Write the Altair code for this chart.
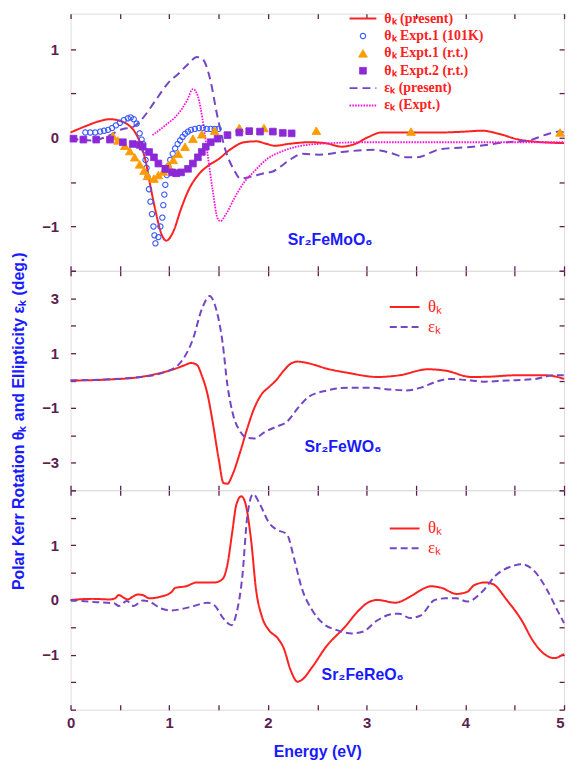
import altair as alt
import pandas as pd

# ---------------- data ----------------
# Panel 1: Sr2FeMoO6
mo_theta_E = [0, 0.15, 0.3, 0.4, 0.5, 0.58, 0.66, 0.72, 0.76, 0.81, 0.86, 0.93, 0.97, 1.04, 1.12, 1.2, 1.3, 1.4,
              1.5, 1.62, 1.76, 1.88, 1.99, 2.07, 2.2, 2.42, 2.58, 2.75, 2.88, 3.02, 3.15, 3.41, 3.74, 4.0, 4.17,
              4.34, 4.54, 4.67, 5.0]
mo_theta_v = [0.06, 0.13, 0.19, 0.21, 0.19, 0.15, 0.05, -0.1, -0.26, -0.55, -0.82, -1.11, -1.16, -1.06, -0.80,
              -0.58, -0.41, -0.31, -0.24, -0.13, -0.05, -0.04, -0.07, -0.09, -0.07, -0.05, -0.06, -0.10, -0.07,
              0.01, 0.06, 0.06, 0.06, 0.07, 0.08, 0.045, -0.02, -0.04, -0.06]
mo_eps_E = [0, 0.23, 0.36, 0.53, 0.63, 0.73, 0.86, 0.99, 1.09, 1.19, 1.28, 1.34, 1.41, 1.49, 1.57, 1.66, 1.72,
            1.82, 1.96, 2.05, 2.12, 2.22, 2.35, 2.52, 2.75, 3.08, 3.21, 3.41, 3.51, 3.74, 4.08, 4.41, 4.64, 4.80,
            4.95, 5.0]
mo_eps_v = [-0.01, -0.03, 0.01, 0.10, 0.12, 0.22, 0.42, 0.62, 0.72, 0.83, 0.91, 0.885, 0.68, 0.23, -0.14, -0.37,
            -0.46, -0.44, -0.40, -0.38, -0.33, -0.25, -0.18, -0.19, -0.16, -0.135, -0.16, -0.22, -0.22, -0.13,
            -0.10, -0.05, -0.03, 0.03, 0.07, 0.06]
mo_epsx_E = [0.83, 0.96, 1.09, 1.18, 1.24, 1.29, 1.34, 1.39, 1.44, 1.49, 1.52, 1.57, 1.66, 1.76, 1.86, 1.99, 2.15,
             2.29, 2.5, 3.0, 3.5, 4.0, 4.5, 5.0]
mo_epsx_v = [0.03, 0.14, 0.27, 0.42, 0.55, 0.47, 0.19, -0.2, -0.59, -0.91, -0.94, -0.87, -0.68, -0.50, -0.38,
             -0.24, -0.15, -0.10, -0.07, -0.05, -0.05, -0.05, -0.05, -0.05]
mo_x101_E = [0.15, 0.2, 0.25, 0.3, 0.34, 0.38, 0.42, 0.46, 0.5, 0.54, 0.58, 0.61, 0.64, 0.67, 0.70, 0.72, 0.735,
             0.75, 0.76, 0.77, 0.78, 0.795, 0.81, 0.825, 0.84, 0.85, 0.86, 0.89, 0.91, 0.93, 0.94, 0.95, 0.96,
             0.975, 0.99, 1.01, 1.035, 1.06, 1.085, 1.11, 1.135, 1.16, 1.19, 1.22, 1.26, 1.3, 1.34, 1.38, 1.42,
             1.46, 1.5]
mo_x101_v = [0.06, 0.06, 0.06, 0.07, 0.08, 0.09, 0.11, 0.14, 0.17, 0.2, 0.22, 0.23, 0.21, 0.16, 0.05, -0.02,
             -0.07, -0.14, -0.25, -0.34, -0.44, -0.58, -0.72, -0.86, -1.0, -1.1, -1.19, -1.12, -1.0, -0.9, -0.76,
             -0.64, -0.53, -0.42, -0.32, -0.25, -0.18, -0.12, -0.07, -0.03, 0.01, 0.045, 0.07, 0.09, 0.1, 0.11,
             0.11, 0.1, 0.1, 0.1, 0.1]
mo_xrt_E = [0.43, 0.48, 0.55, 0.60, 0.65, 0.70, 0.745, 0.78, 0.845, 0.89, 0.94, 0.99, 1.04, 1.09, 1.16, 1.24,
            1.33, 1.46, 1.71, 1.96, 2.49, 3.45, 4.96]
mo_xrt_v = [0.02, -0.03, -0.09, -0.15, -0.22, -0.30, -0.37, -0.43, -0.46, -0.42, -0.38, -0.31, -0.25, -0.18,
            -0.10, -0.01, 0.04, 0.08, 0.11, 0.11, 0.08, 0.07, 0.06]
mo_x2_E = [0.03, 0.13, 0.26, 0.40, 0.53, 0.63, 0.70, 0.73, 0.795, 0.845, 0.89, 0.96, 1.03, 1.07, 1.12, 1.19,
           1.24, 1.29, 1.33, 1.37, 1.42, 1.49, 1.59, 1.71, 1.81, 1.92, 2.05, 2.15, 2.24]
mo_x2_v = [-0.01, -0.02, -0.02, -0.02, -0.05, -0.07, -0.08, -0.10, -0.16, -0.22, -0.29, -0.35, -0.39, -0.40,
           -0.39, -0.35, -0.29, -0.22, -0.16, -0.10, -0.05, -0.01, 0.03, 0.06, 0.075, 0.07, 0.07, 0.055, 0.05]

# Panel 2: Sr2FeWO6
w_theta_E = [0, 0.4, 0.69, 0.88, 1.06, 1.15, 1.22, 1.28, 1.33, 1.39, 1.44, 1.50, 1.55, 1.59, 1.64, 1.72, 1.79,
             1.86, 1.94, 2.01, 2.08, 2.16, 2.23, 2.30, 2.41, 2.60, 2.81, 3.11, 3.33, 3.62, 3.80, 4.06, 4.24, 4.50,
             4.82, 5.0]
w_theta_v = [0, 0.04, 0.12, 0.25, 0.43, 0.55, 0.64, 0.57, 0.18, -0.54, -1.51, -2.84, -3.74, -3.76, -3.44, -2.59,
             -1.75, -1.02, -0.48, -0.24, 0.0, 0.36, 0.61, 0.69, 0.63, 0.43, 0.28, 0.13, 0.19, 0.41, 0.36, 0.13,
             0.14, 0.19, 0.19, 0.06]
w_eps_E = [0, 0.69, 1.02, 1.13, 1.24, 1.33, 1.41, 1.46, 1.54, 1.59, 1.64, 1.72, 1.79, 1.86, 1.97, 2.08, 2.19,
           2.30, 2.41, 2.60, 2.81, 3.03, 3.25, 3.40, 3.55, 3.69, 3.84, 4.06, 4.20, 4.42, 4.71, 4.90, 5.0]
w_eps_v = [0, 0.12, 0.40, 0.73, 1.51, 2.60, 3.08, 2.78, 1.39, -0.18, -1.15, -1.87, -2.09, -2.11, -1.87, -1.69,
           -1.51, -1.02, -0.60, -0.36, -0.26, -0.26, -0.33, -0.36, -0.26, -0.06, 0.06, 0.0, -0.04, 0.0, 0.06,
           0.19, 0.19]

# Panel 3: Sr2FeReO6
re_theta_E = [0, 0.22, 0.40, 0.45, 0.49, 0.54, 0.58, 0.63, 0.68, 0.73, 0.80, 0.91, 1.02, 1.06, 1.17, 1.28, 1.46,
              1.54, 1.59, 1.64, 1.68, 1.73, 1.77, 1.83, 1.88, 1.94, 2.01, 2.10, 2.16, 2.23, 2.30, 2.34, 2.45,
              2.59, 2.78, 2.92, 3.02, 3.11, 3.29, 3.44, 3.58, 3.65, 3.76, 3.91, 4.02, 4.09, 4.20, 4.28, 4.42,
              4.57, 4.68, 4.79, 4.90, 5.0]
re_theta_v = [0, 0.02, 0.01, 0.03, 0.09, 0.04, 0.01, 0.06, 0.1, 0.09, 0.03, 0.06, 0.14, 0.22, 0.25, 0.32, 0.32,
              0.38, 0.65, 1.26, 1.74, 1.89, 1.77, 1.08, 0.18, -0.31, -0.55, -0.70, -0.88, -1.28, -1.49, -1.46,
              -1.22, -0.85, -0.49, -0.19, -0.04, 0.0, -0.05, 0.06, 0.21, 0.25, 0.22, 0.11, 0.15, 0.27, 0.32,
              0.29, 0.0, -0.37, -0.73, -0.97, -1.06, -0.98]
re_eps_E = [0, 0.26, 0.44, 0.49, 0.57, 0.64, 0.73, 0.80, 0.91, 1.02, 1.21, 1.39, 1.46, 1.55, 1.63, 1.68, 1.74,
            1.79, 1.85, 1.92, 2.01, 2.08, 2.19, 2.27, 2.34, 2.45, 2.56, 2.70, 2.85, 2.96, 3.11, 3.25, 3.33, 3.44,
            3.55, 3.69, 3.80, 3.91, 4.02, 4.17, 4.31, 4.50, 4.57, 4.68, 4.82, 4.93, 5.0]
re_eps_v = [0, -0.04, -0.06, -0.11, -0.02, -0.11, -0.01, -0.03, -0.15, -0.19, -0.13, -0.05, -0.10, -0.34, -0.46,
            -0.25, 0.42, 1.51, 1.93, 1.74, 1.41, 1.29, 1.20, 0.72, 0.23, -0.19, -0.43, -0.55, -0.61, -0.58, -0.37,
            -0.26, -0.25, -0.33, -0.28, 0.0, 0.03, 0.03, -0.03, 0.15, 0.45, 0.63, 0.65, 0.56, 0.21, -0.18, -0.42]

# series names / labels
S1 = ["θₖ (present)", "θₖ Expt.1 (101K)", "θₖ Expt.1 (r.t.)", "θₖ Expt.2 (r.t.)", "εₖ (present)", "εₖ (Expt.)"]
S2 = ["θₖ", "εₖ"]
compounds = ["Sr₂FeMoO₆", "Sr₂FeWO₆", "Sr₂FeReO₆"]
compound_E = [2.63, 2.76, 2.96]
compound_v = [-1.15, -2.41, -1.37]

x_ticks = [0, 0.5, 1, 1.5, 2, 2.5, 3, 3.5, 4, 4.5, 5]
y1_ticks = [-1.5, -1, -0.5, 0, 0.5, 1]
y2_ticks = [-4, -3, -2, -1, 0, 1, 2, 3, 4]
y3_ticks = [-2, -1.5, -1, -0.5, 0, 0.5, 1, 1.5, 2]

# ---------------- styles ----------------
AX = "#5c1e50"
BLUE = "#1a1aff"
RED = "#ff2020"
PURPLE = "#7446c6"
MAGENTA = "#ff10d8"
ORANGE = "#ff9a00"
CIRC = "#3858ff"
SQ = "#8d28d8"
SANS = "Liberation Sans"
SERIF = "Liberation Serif"
LINE_SYM = "M-2.7,0H2.7"
TW = 1.3
PW = 497


def long_df(items):
    rows = []
    for name, xs, ys in items:
        for a, b in zip(xs, ys):
            rows.append({"series": name, "E": a, "v": b})
    return pd.DataFrame(rows)


XS = alt.Scale(domain=[0, 5], nice=False, zero=False)


def x_axis(orient, labels=False, title_y=None):
    d = dict(orient=orient, values=x_ticks, offset=-5, tickSize=5, tickWidth=TW, tickColor=AX,
             domain=False, grid=False, labels=labels, title=None)
    if labels:
        d.update(labelExpr="datum.value % 1 == 0 ? format(datum.value, 'd') : ''", labelFont=SANS,
                 labelFontSize=15, labelFontWeight="bold", labelColor=AX, labelPadding=6,
                 labelOverlap=False, labelFlush=False,
                 labelAlign={"condition": {"test": "datum.value == 5", "value": "right"}, "value": "center"})
    if title_y is not None:
        d.update(title="Energy (eV)", titleY=title_y, titleBaseline="middle", titleFont=SANS,
                 titleFontSize=16, titleFontWeight="bold", titleColor=BLUE)
    return alt.Axis(**d)


def y_axis(orient, values, expr=None, title_y=None):
    d = dict(orient=orient, values=values, offset=-5, tickSize=5, tickWidth=TW, tickColor=AX,
             domain=False, grid=False, title=None)
    if expr:
        d.update(labelExpr=expr, labelFont=SANS, labelFontSize=15, labelFontWeight="bold", labelColor=AX,
                 labelPadding=12, labelOverlap=False, labelFlush=False, labelBaseline="middle")
    else:
        d["labels"] = False
    if title_y is not None:
        d.update(title="Polar Kerr Rotation θₖ and Ellipticity εₖ (deg.)", titleX=-57, titleY=title_y,
                 titleAngle=270, titleBaseline="middle", titleFont=SANS, titleFontSize=16,
                 titleFontWeight="bold", titleColor=BLUE)
    return alt.Axis(**d)


INT_EXPR = "datum.value % 1 == 0 ? format(datum.value, 'd') : ''"
ODD_EXPR = "abs(datum.value) % 2 == 1 ? format(datum.value, 'd') : ''"
RE_EXPR = "datum.value % 1 == 0 && abs(datum.value) < 2 ? format(datum.value, 'd') : ''"


def label_layer(i, ys, yvals):
    df = pd.DataFrame({"E": [compound_E[i]], "v": [compound_v[i]], "t": [compounds[i]]})
    return alt.Chart(df).mark_text(font=SANS, fontSize=16, fontWeight="bold", color=BLUE,
                                   baseline="middle").encode(
        x=alt.X("E:Q", scale=XS, axis=x_axis("top")),
        y=alt.Y("v:Q", scale=ys, axis=y_axis("right", yvals)),
        text="t:N")


# ---------------- panel 1 ----------------
ys1 = alt.Scale(domain=[-1.5, 1.4], nice=False, zero=False)
leg1 = alt.Legend(title=None, orient="none", legendX=287.5, legendY=-2, padding=0, rowPadding=3.5,
                  labelOffset=14.5, labelFont=SERIF, labelFontSize=14, labelFontWeight="bold",
                  labelColor=RED, labelLimit=300)
c1 = alt.Scale(domain=S1, range=[RED, CIRC, ORANGE, SQ, PURPLE, MAGENTA])
f1 = alt.Scale(domain=S1, range=["transparent", "transparent", ORANGE, SQ, "transparent", "transparent"])
sh1 = alt.Scale(domain=S1, range=[LINE_SYM, "circle", "triangle-up", "square", LINE_SYM, LINE_SYM])
sz1 = alt.Scale(type="ordinal", domain=S1, range=[100, 28, 75, 45, 100, 100])
da1 = alt.Scale(domain=S1, range=[[1, 0], [1, 0], [1, 0], [1, 0], [8, 5], [1.6, 1.2]])
sw1 = alt.Scale(type="ordinal", domain=S1, range=[2, 1.1, 1, 1, 2, 1.8])

lines1 = long_df([(S1[0], mo_theta_E, mo_theta_v), (S1[4], mo_eps_E, mo_eps_v), (S1[5], mo_epsx_E, mo_epsx_v)])
pts1 = long_df([(S1[1], mo_x101_E, mo_x101_v), (S1[2], mo_xrt_E, mo_xrt_v), (S1[3], mo_x2_E, mo_x2_v)])

l1 = alt.Chart(lines1).mark_line(interpolate="monotone").encode(
    x=alt.X("E:Q", scale=XS, axis=x_axis("bottom")),
    y=alt.Y("v:Q", scale=ys1, axis=y_axis("left", y1_ticks, INT_EXPR)),
    color=alt.Color("series:N", scale=c1, legend=leg1),
    strokeDash=alt.StrokeDash("series:N", scale=da1, legend=leg1),
    strokeWidth=alt.StrokeWidth("series:N", scale=sw1, legend=leg1),
)
p1pts = alt.Chart(pts1).mark_point(opacity=1, filled=False).encode(
    x=alt.X("E:Q", scale=XS, axis=None),
    y=alt.Y("v:Q", scale=ys1, axis=None),
    color=alt.Color("series:N", scale=c1, legend=leg1),
    fill=alt.Fill("series:N", scale=f1, legend=leg1),
    shape=alt.Shape("series:N", scale=sh1, legend=leg1),
    size=alt.Size("series:N", scale=sz1, legend=leg1),
    strokeDash=alt.StrokeDash("series:N", scale=da1, legend=leg1),
    strokeWidth=alt.StrokeWidth("series:N", scale=sw1, legend=leg1),
)
panel1 = alt.layer(l1, p1pts, label_layer(0, ys1, y1_ticks)).resolve_axis(
    x="independent", y="independent").properties(width=PW, height=259)


# ---------------- panels 2 & 3 ----------------
def simple_panel(items, ys, yvals, expr, idx, height, legend_y, bottom=False, title_y=None):
    leg = alt.Legend(title=None, orient="none", legendX=328, legendY=legend_y, padding=0, rowPadding=2,
                     labelOffset=15, labelFont=SERIF, labelFontSize=17, labelColor=RED,
                     symbolType="M-2.5,0H2.5", symbolSize=144, symbolStrokeWidth=2)
    c = alt.Scale(domain=S2, range=[RED, PURPLE])
    da = alt.Scale(domain=S2, range=[[1, 0], [7, 4]])
    ln = alt.Chart(long_df(items)).mark_line(interpolate="monotone", strokeWidth=2).encode(
        x=alt.X("E:Q", scale=XS, axis=x_axis("bottom", labels=bottom, title_y=(47 if bottom else None))),
        y=alt.Y("v:Q", scale=ys, axis=y_axis("left", yvals, expr, title_y=title_y)),
        color=alt.Color("series:N", scale=c, legend=leg),
        strokeDash=alt.StrokeDash("series:N", scale=da, legend=leg),
    )
    return alt.layer(ln, label_layer(idx, ys, yvals)).resolve_axis(
        x="independent", y="independent").properties(width=PW, height=height)


ys2 = alt.Scale(domain=[-4, 4], nice=False, zero=False)
ys3 = alt.Scale(domain=[-2, 2], nice=False, zero=False)
panel2 = simple_panel([(S2[0], w_theta_E, w_theta_v), (S2[1], w_eps_E, w_eps_v)], ys2, y2_ticks, ODD_EXPR,
                      1, 221, 28, title_y=151)
panel3 = simple_panel([(S2[0], re_theta_E, re_theta_v), (S2[1], re_eps_E, re_eps_v)], ys3, y3_ticks, RE_EXPR,
                      2, 221, 30, bottom=True)

chart = alt.vconcat(panel1, panel2, panel3, spacing=0, bounds="flush").resolve_scale(
    y="independent", color="independent", fill="independent", shape="independent", size="independent",
    strokeDash="independent", strokeWidth="independent"
).resolve_legend(
    color="independent", fill="independent", shape="independent", size="independent",
    strokeDash="independent", strokeWidth="independent"
).properties(
    padding={"left": 2, "top": 0, "right": 0, "bottom": 0}
).configure_view(stroke=AX, strokeWidth=1.5).configure(background="white")

chart.save("out.html", embed_options={"renderer": "svg", "actions": False})
